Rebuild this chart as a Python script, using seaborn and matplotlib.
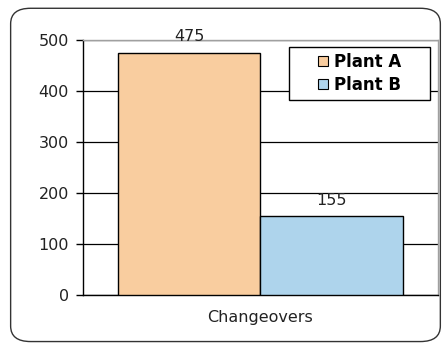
import matplotlib
matplotlib.use("Agg")
import matplotlib.pyplot as plt
from matplotlib.patches import FancyBboxPatch, Rectangle, Patch
import seaborn as sns
import pandas as pd

categories = ["Changeovers"]
plants = ["Plant A", "Plant B"]
plant_a = [475]
plant_b = [155]
y_ticks = [0, 100, 200, 300, 400, 500]

colors = {"Plant A": "#F9CD9F", "Plant B": "#AED4EC"}

df = pd.DataFrame({
    "Category": categories * 2,
    "Plant": [plants[0]] * len(categories) + [plants[1]] * len(categories),
    "Value": plant_a + plant_b,
})

sns.set_style("white")
plt.rcParams["font.family"] = ["DejaVu Sans"]
plt.rcParams["text.color"] = "black"

fig = plt.figure(figsize=(4.43, 3.45), dpi=100)
ax = fig.add_axes([0.187, 0.145, 0.802, 0.739])

# rounded outer chart frame
frame = FancyBboxPatch((0.024, 0.01), 0.97, 0.966,
                       boxstyle="round,pad=0,rounding_size=0.045",
                       transform=fig.transFigure, fill=False,
                       edgecolor="#333333", linewidth=1.0, zorder=-5)
fig.patches.append(frame)

sns.barplot(data=df, x="Category", y="Value", hue="Plant", palette=colors,
            saturation=1, width=0.8, gap=0, edgecolor="black", linewidth=1.0,
            ax=ax, zorder=3, legend=False)

ax.set_xlim(-0.5, 0.5)
ax.set_ylim(0, 500)
ax.set_yticks(y_ticks)
ax.set_yticklabels([str(v) for v in y_ticks], fontsize=11.5, color="#222222")
ax.yaxis.grid(True, color="black", linewidth=0.9, zorder=0)
ax.set_axisbelow(True)
ax.set_xlabel("")
ax.set_ylabel("")
ax.tick_params(axis="y", which="both", left=True, length=5, width=1, color="black", pad=5)
ax.tick_params(axis="x", length=0, labelsize=11.5, pad=11, labelcolor="#222222")

for side in ["top", "right"]:
    ax.spines[side].set_color("#A0A0A0")
    ax.spines[side].set_linewidth(1)
for side in ["left", "bottom"]:
    ax.spines[side].set_color("black")
    ax.spines[side].set_linewidth(1)

# value labels above each bar
for container in ax.containers:
    for lbl in ax.bar_label(container, fmt="%d", fontsize=11.5, color="#222222", padding=6):
        lbl.set_zorder(6)

# legend: box drawn separately so entries sit centred with wide side margins
legend_box = Rectangle((0.652, 0.710), 0.319, 0.154, transform=fig.transFigure,
                       facecolor="white", edgecolor="black", linewidth=1.0, zorder=4)
fig.patches.append(legend_box)
handles = [Patch(facecolor=colors[p], edgecolor="black", linewidth=0.8) for p in plants]
leg = fig.legend(handles, plants, loc="center", bbox_to_anchor=(0.8115, 0.787),
                 frameon=False, prop={"weight": "bold", "size": 12},
                 handlelength=0.6, handleheight=0.6, handletextpad=0.35,
                 labelspacing=0.3, borderpad=0)
for t in leg.get_texts():
    t.set_color("black")
leg.set_zorder(5)

fig.savefig("out.png", dpi=100, facecolor="white")
